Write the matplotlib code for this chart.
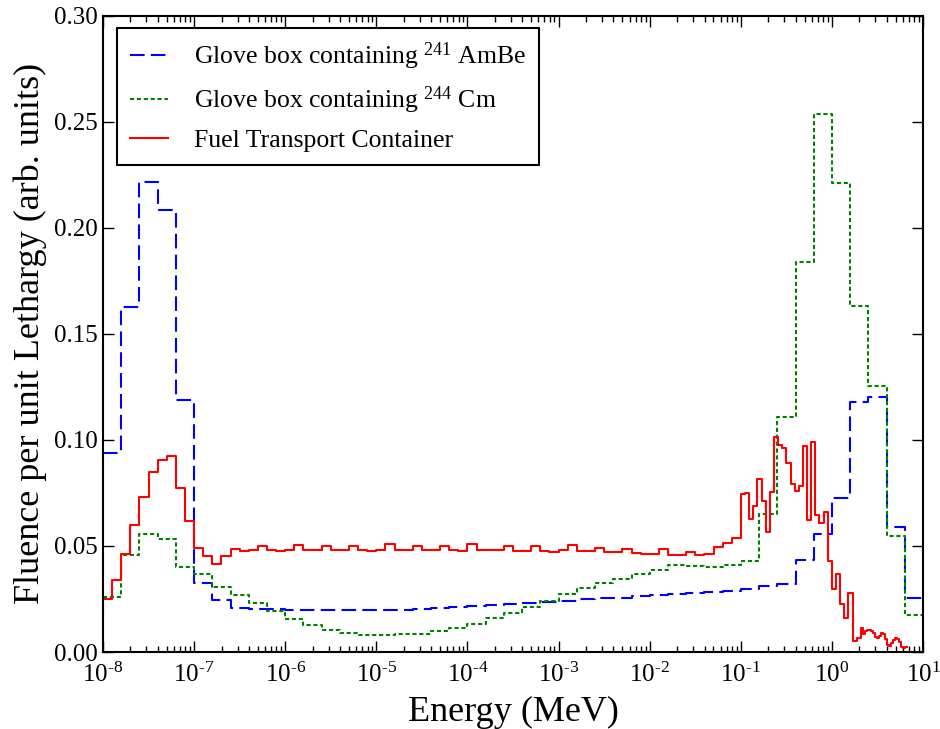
import numpy as np
import matplotlib
matplotlib.use("Agg")
import matplotlib.pyplot as plt
from matplotlib.ticker import LogLocator, FormatStrFormatter, FuncFormatter, NullFormatter

plt.rcParams["font.family"] = ["Liberation Serif", "DejaVu Serif"]
plt.rcParams["mathtext.fontset"] = "custom"
plt.rcParams["mathtext.rm"] = "Liberation Serif"
plt.rcParams["mathtext.it"] = "Liberation Serif:italic"
plt.rcParams["mathtext.bf"] = "Liberation Serif:bold"
plt.rcParams["axes.unicode_minus"] = False

# ---- data (fluence per unit lethargy, arb. units) ----
# glove boxes: 5 groups per decade, 1e-8 .. 1e1 MeV
GB_EDGES = np.logspace(-8, 1, 46)
AMBE = [0.0939, 0.1627, 0.2216, 0.2084, 0.1187, 0.0326, 0.0244, 0.0208, 0.0205,
        0.0202, 0.0200, 0.0200, 0.0199, 0.0199, 0.0199, 0.0200, 0.0200, 0.0203,
        0.0208, 0.0212, 0.0216, 0.0222, 0.0227, 0.0233, 0.0237, 0.0241, 0.0248,
        0.0253, 0.0257, 0.0263, 0.0268, 0.0272, 0.0277, 0.0285, 0.0290, 0.0298,
        0.0310, 0.0323, 0.0436, 0.0558, 0.0728, 0.1179, 0.1203, 0.0590, 0.0255]
CM244 = [0.0259, 0.0456, 0.0558, 0.0535, 0.0401, 0.0366, 0.0307, 0.0267, 0.0231,
         0.0192, 0.0154, 0.0126, 0.0104, 0.0089, 0.0081, 0.0082, 0.0083, 0.0083,
         0.0099, 0.0115, 0.0134, 0.0159, 0.0186, 0.0214, 0.0242, 0.0272, 0.0302,
         0.0326, 0.0346, 0.0367, 0.0385, 0.0409, 0.0405, 0.0403, 0.0410, 0.0428,
         0.0653, 0.1106, 0.1838, 0.2535, 0.2209, 0.1632, 0.1256, 0.0547, 0.0173]

# fuel transport container: 10 groups/decade up to 0.1 MeV, finer above
FTC_EDGES = np.concatenate([
    np.logspace(-8, -1, 71),
    np.logspace(-1, 0.317, 30)[1:],
    np.logspace(0.317, 0.823, 24)[1:],
])
FTC_START = 0.0181
FTC = [0.0252, 0.0338, 0.0464, 0.0598, 0.0731, 0.0849, 0.0904, 0.0925, 0.0771, 0.0617,
       0.0492, 0.0452, 0.0417, 0.0452, 0.0486, 0.0476, 0.0479, 0.0500, 0.0479, 0.0476,
       0.0479, 0.0506, 0.0479, 0.0479, 0.0500, 0.0479, 0.0479, 0.0500, 0.0479, 0.0476,
       0.0482, 0.0508, 0.0479, 0.0479, 0.0500, 0.0479, 0.0479, 0.0500, 0.0479, 0.0476,
       0.0508, 0.0482, 0.0479, 0.0479, 0.0499, 0.0476, 0.0476, 0.0500, 0.0476, 0.0470,
       0.0480, 0.0505, 0.0476, 0.0476, 0.0490, 0.0470, 0.0470, 0.0487, 0.0469, 0.0460,
       0.0464, 0.0488, 0.0456, 0.0456, 0.0472, 0.0459, 0.0464, 0.0495, 0.0515, 0.0538,
       # 0.1 .. 2 MeV
       0.0744, 0.0752, 0.0625, 0.0687, 0.0815, 0.0711, 0.0566, 0.0755, 0.1014, 0.0978,
       0.0962, 0.0893, 0.0790, 0.0759, 0.0782, 0.0972, 0.0621, 0.0988, 0.0645, 0.0606,
       0.0658, 0.0429, 0.0299, 0.0367, 0.0225, 0.0162, 0.0278, 0.0052, 0.0065,
       # tail
       0.0113, 0.0083, 0.0098, 0.0102, 0.0104, 0.0100, 0.0088, 0.0072, 0.0068, 0.0076,
       0.0088, 0.0086, 0.0060, 0.0032, 0.0030, 0.0042, 0.0056, 0.0065, 0.0062, 0.0045,
       0.0025, 0.0019, 0.0025]

LABELS = ["Glove box containing $^{241}$ AmBe",
          "Glove box containing $^{244}$ Cm",
          "Fuel Transport Container"]


def decade_label(x, pos):
    e = int(round(np.log10(x)))
    # short hyphen in the exponent, like the original figure
    return "$10^{%s}$" % (str(e).replace("-", "\u2010"))


fig = plt.figure(figsize=(9.4, 7.29), dpi=100)
ax = fig.add_axes([0.1096, 0.1056, 0.8724, 0.8729])

ax.step(GB_EDGES, [AMBE[0]] + AMBE, where="pre", color="#0000ff", lw=1.5,
        linestyle=(0, (7, 3)), label=LABELS[0])
ax.step(GB_EDGES, [CM244[0]] + CM244, where="pre", color="#008000", lw=1.5,
        linestyle=(0, (2, 1.3)), label=LABELS[1])
ax.step(FTC_EDGES, [FTC_START] + FTC, where="pre", color="#ff0000", lw=1.5,
        label=LABELS[2])

ax.set_xscale("log")
ax.set_xlim(1e-8, 1e1)
ax.set_ylim(0, 0.30)
ax.set_yticks(np.arange(0, 0.301, 0.05))
ax.yaxis.set_major_formatter(FormatStrFormatter("%.2f"))
ax.xaxis.set_major_locator(LogLocator(base=10, numticks=20))
ax.xaxis.set_major_formatter(FuncFormatter(decade_label))
ax.xaxis.set_minor_locator(LogLocator(base=10, subs=np.arange(2, 10), numticks=20))
ax.xaxis.set_minor_formatter(NullFormatter())

ax.tick_params(which="both", direction="in", top=True, right=True, labelsize=18)
ax.tick_params(which="major", length=8, width=1)
ax.tick_params(which="minor", length=4, width=1)
ax.tick_params(axis="x", which="major", pad=8)
for s in ax.spines.values():
    s.set_linewidth(1.5)

ax.set_xlabel("Energy (MeV)", fontsize=26, labelpad=6)
ax.set_ylabel("Fluence per unit Lethargy (arb. units)", fontsize=26, labelpad=5)

leg = ax.legend(loc="upper left", bbox_to_anchor=(0.017, 0.981), borderaxespad=0,
                fontsize=18.5, fancybox=False, framealpha=1, edgecolor="black",
                handlelength=1.5, handletextpad=1.0, labelspacing=0.5,
                borderpad=0.5)
leg.get_frame().set_linewidth(1.5)

fig.savefig("out.png", dpi=100)
